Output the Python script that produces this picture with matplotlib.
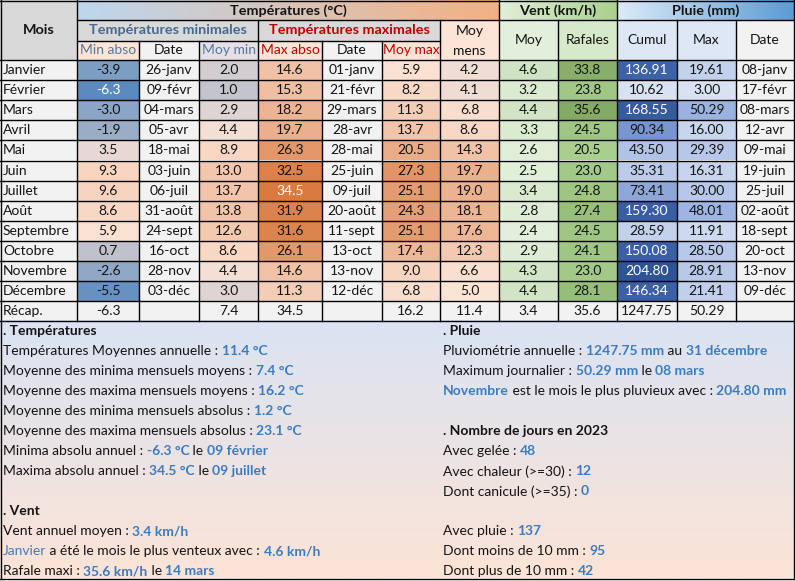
import numpy as np
import matplotlib
matplotlib.use("Agg")
import matplotlib.pyplot as plt
from matplotlib.colors import LinearSegmentedColormap, TwoSlopeNorm, Normalize, to_rgb
from matplotlib.patches import Rectangle

# ---------------- data ----------------
months = ["Janvier", "Février", "Mars", "Avril", "Mai", "Juin", "Juillet", "Août",
          "Septembre", "Octobre", "Novembre", "Décembre"]
min_abso = [-3.9, -6.3, -3.0, -1.9, 3.5, 9.3, 9.6, 8.6, 5.9, 0.7, -2.6, -5.5]
min_date = ["26-janv", "09-févr", "04-mars", "05-avr", "18-mai", "03-juin", "06-juil",
            "31-août", "24-sept", "16-oct", "28-nov", "03-déc"]
moy_min = [2.0, 1.0, 2.9, 4.4, 8.9, 13.0, 13.7, 13.8, 12.6, 8.6, 4.4, 3.0]
max_abso = [14.6, 15.3, 18.2, 19.7, 26.3, 32.5, 34.5, 31.9, 31.6, 26.1, 14.6, 11.3]
max_date = ["01-janv", "21-févr", "29-mars", "28-avr", "28-mai", "25-juin", "09-juil",
            "20-août", "11-sept", "13-oct", "13-nov", "12-déc"]
moy_max = [5.9, 8.2, 11.3, 13.7, 20.5, 27.3, 25.1, 24.3, 25.1, 17.4, 9.0, 6.8]
moy_mens = [4.2, 4.1, 6.8, 8.6, 14.3, 19.7, 19.0, 18.1, 17.6, 12.3, 6.6, 5.0]
vent_moy = [4.6, 3.2, 4.4, 3.3, 2.6, 2.5, 3.4, 2.8, 2.4, 2.9, 4.3, 4.4]
rafales = [33.8, 23.8, 35.6, 24.5, 20.5, 23.0, 24.8, 27.4, 24.5, 24.1, 23.0, 28.1]
cumul = [136.91, 10.62, 168.55, 90.34, 43.50, 35.31, 73.41, 159.30, 28.59, 150.08, 204.80, 146.34]
pluie_max = [19.61, 3.00, 50.29, 16.00, 29.39, 16.31, 30.00, 48.01, 11.91, 28.50, 28.91, 21.41]
pluie_date = ["08-janv", "17-févr", "08-mars", "12-avr", "09-mai", "19-juin", "25-juil",
              "02-août", "18-sept", "20-oct", "13-nov", "09-déc"]
recap = ["Récap.", "-6.3", "", "7.4", "34.5", "", "16.2", "11.4", "3.4", "35.6",
         "1247.75", "50.29", ""]

sub_headers = ["Min abso", "Date", "Moy min", "Max abso", "Date", "Moy max"]

notes_left = [
    [(". Températures", "k", True)],
    [("Températures Moyennes annuelle : ", "k", False), ("11.4 °C", "b", True)],
    [("Moyenne des minima mensuels moyens : ", "k", False), ("7.4 °C", "b", True)],
    [("Moyenne des maxima mensuels moyens : ", "k", False), ("16.2 °C", "b", True)],
    [("Moyenne des minima mensuels absolus : ", "k", False), ("1.2 °C", "b", True)],
    [("Moyenne des maxima mensuels absolus : ", "k", False), ("23.1 °C", "b", True)],
    [("Minima absolu annuel : ", "k", False), ("-6.3 °C", "b", True), (" le ", "k", False), ("09 février", "b", True)],
    [("Maxima absolu annuel : ", "k", False), ("34.5 °C", "b", True), (" le ", "k", False), ("09 juillet", "b", True)],
    [],
    [(". Vent", "k", True)],
    [("Vent annuel moyen : ", "k", False), ("3.4 km/h", "b", True)],
    [("Janvier", "b", False), (" a été le mois le plus venteux avec : ", "k", False), ("4.6 km/h", "b", True)],
    [("Rafale maxi : ", "k", False), ("35.6 km/h", "b", True), (" le ", "k", False), ("14 mars", "b", True)],
]
notes_right = [
    [(". Pluie", "k", True)],
    [("Pluviométrie annuelle : ", "k", False), ("1247.75 mm", "b", True), (" au ", "k", False), ("31 décembre", "b", True)],
    [("Maximum journalier : ", "k", False), ("50.29 mm", "b", True), (" le ", "k", False), ("08 mars", "b", True)],
    [("Novembre", "b", True), (" est le mois le plus pluvieux avec : ", "k", False), ("204.80 mm", "b", True)],
    [],
    [(". Nombre de jours en 2023", "k", True)],
    [("Avec gelée : ", "k", False), ("48", "b", True)],
    [("Avec chaleur (>=30) : ", "k", False), ("12", "b", True)],
    [("Dont canicule (>=35) : ", "k", False), ("0", "b", True)],
    [],
    [("Avec pluie : ", "k", False), ("137", "b", True)],
    [("Dont moins de 10 mm : ", "k", False), ("95", "b", True)],
    [("Dont plus de 10 mm : ", "k", False), ("42", "b", True)],
]

# ---------------- layout / style ----------------
W, H = 795, 581
FONT = "Lato"
FS = 10.0
FS_H = 10.4
TXT = "#141414"
HI = "#3b7cc2"
BLUEGRAY = "#46698f"
SUBBLUE = "#52779f"
RED = "#c00000"
GRAY = "#d9d9d9"
LIGHT = "#f2f2f2"
PEACH = "#fce4d6"

col_edges = [0, 77, 139, 199, 258, 322, 382, 440, 499, 558, 617, 677, 736, 794]
hdr_edges = [0, 20, 41, 60]
row_h = 20.1
n_rows = len(months) + 1
table_bottom = hdr_edges[-1] + n_rows * row_h
notes_bottom = 578.5

fig = plt.figure(figsize=(W / 100, H / 100), dpi=100)
ax = fig.add_axes([0, 0, 1, 1])
ax.set_xlim(0, W)
ax.set_ylim(H, 0)
ax.axis("off")
fig.patch.set_facecolor("white")
renderer = fig.canvas.get_renderer()


def rect(x0, y0, x1, y1, fc, z=1):
    ax.add_patch(Rectangle((x0, y0), x1 - x0, y1 - y0, facecolor=fc, edgecolor="none", zorder=z))


def hgrad(x0, y0, x1, y1, c0, c1, vertical=False):
    c0 = np.array(to_rgb(c0)); c1 = np.array(to_rgb(c1))
    t = np.linspace(0, 1, 256)
    g = c0[None, :] * (1 - t[:, None]) + c1[None, :] * t[:, None]
    img = g[None, :, :] if not vertical else g[:, None, :]
    ax.imshow(img, extent=(x0, x1, y1, y0), aspect="auto", zorder=1, interpolation="bilinear")


def txt(x, y, s, color=TXT, bold=False, ha="center", size=FS):
    return ax.text(x, y, s, color=color, fontweight="bold" if bold else "normal",
                   ha=ha, va="center", fontsize=size, family=FONT, zorder=5)


def cx(c0, c1=None):
    c1 = c0 if c1 is None else c1
    return (col_edges[c0] + col_edges[c1 + 1]) / 2


def row_y(i):
    return hdr_edges[-1] + i * row_h


# ---- colour scales ----
temp_cmap = LinearSegmentedColormap.from_list("temp", ["#5b8bbe", PEACH, "#d97a40"])
temp_norm = TwoSlopeNorm(vmin=-6.3, vcenter=5.0, vmax=34.5)
vm_cmap = LinearSegmentedColormap.from_list("vm", ["#e2efda", "#cfe4c2"])
vm_norm = Normalize(min(vent_moy), max(vent_moy))
raf_cmap = LinearSegmentedColormap.from_list("raf", ["#a9cf8f", "#84ab65"])
raf_norm = Normalize(min(rafales), max(rafales))
cum_cmap = LinearSegmentedColormap.from_list(
    "cum", [(0.0, "#d9e2f3"), (0.40, "#7b98d2"), (0.65, "#3d62a8"), (1.0, "#2e5496")])
cum_norm = Normalize(min(cumul), max(cumul))
pmax_cmap = LinearSegmentedColormap.from_list("pmax", ["#d9e2f3", "#9bb2e1"])
pmax_norm = Normalize(min(pluie_max), max(pluie_max))

# ---------------- header ----------------
rect(col_edges[0], 0, col_edges[1], hdr_edges[3], GRAY)
txt(cx(0), hdr_edges[3] / 2, "Mois", bold=True, size=FS_H)

hgrad(col_edges[1], 0, col_edges[8], hdr_edges[1], "#bdd7ee", "#f4b183")
txt(cx(1, 7), hdr_edges[1] / 2 + 0.5, "Températures (°C)", bold=True, size=FS_H)
hgrad(col_edges[8], 0, col_edges[10], hdr_edges[1], "#e2efda", "#a9d08e")
txt(cx(8, 9), hdr_edges[1] / 2 + 0.5, "Vent (km/h)", bold=True, size=FS_H)
hgrad(col_edges[10], 0, col_edges[13], hdr_edges[1], "#ddebf7", "#5b9bd5")
txt(cx(10, 12), hdr_edges[1] / 2 + 0.5, "Pluie (mm)", bold=True, size=FS_H)

ym1 = (hdr_edges[1] + hdr_edges[2]) / 2
rect(col_edges[1], hdr_edges[1], col_edges[4], hdr_edges[2], GRAY)
txt(cx(1, 3), ym1, "Températures minimales", color=BLUEGRAY, bold=True, size=FS_H)
rect(col_edges[4], hdr_edges[1], col_edges[7], hdr_edges[2], GRAY)
txt(cx(4, 6), ym1, "Températures maximales", color=RED, bold=True, size=FS_H)

rect(col_edges[7], hdr_edges[1], col_edges[8], hdr_edges[3], PEACH)
txt(cx(7), 31, "Moy")
txt(cx(7), 51, "mens")
span_cols = [(8, "Moy", "#e2efda"), (9, "Rafales", "#d6e9c9"), (10, "Cumul", "#dde7f5"),
             (11, "Max", "#dde7f5"), (12, "Date", LIGHT)]
for c, lab, fc in span_cols:
    rect(col_edges[c], hdr_edges[1], col_edges[c + 1], hdr_edges[3], fc)
    txt(cx(c), (hdr_edges[1] + hdr_edges[3]) / 2, lab)

sub_style = [(PEACH, SUBBLUE), (LIGHT, TXT), ("#e6e0e6", SUBBLUE),
             (PEACH, RED), (LIGHT, TXT), (PEACH, RED)]
ym2 = (hdr_edges[2] + hdr_edges[3]) / 2
for k, lab in enumerate(sub_headers):
    fc, tc = sub_style[k]
    rect(col_edges[1 + k], hdr_edges[2], col_edges[2 + k], hdr_edges[3], fc)
    txt(cx(1 + k), ym2, lab, color=tc)

# ---------------- body ----------------
tmin_all = min(min_abso)
tmax_all = max(max_abso)
for i, m in enumerate(months):
    y0, y1 = row_y(i), row_y(i + 1)
    yc = (y0 + y1) / 2
    rect(col_edges[0], y0, col_edges[1], y1, LIGHT)
    txt(3, yc, m, ha="left")
    cells = [
        (1, f"{min_abso[i]:.1f}", temp_cmap(temp_norm(min_abso[i])), min_abso[i] == tmin_all),
        (2, min_date[i], LIGHT, False),
        (3, f"{moy_min[i]:.1f}", temp_cmap(temp_norm(moy_min[i])), False),
        (4, f"{max_abso[i]:.1f}", temp_cmap(temp_norm(max_abso[i])), max_abso[i] == tmax_all),
        (5, max_date[i], LIGHT, False),
        (6, f"{moy_max[i]:.1f}", temp_cmap(temp_norm(moy_max[i])), False),
        (7, f"{moy_mens[i]:.1f}", temp_cmap(temp_norm(moy_mens[i])), False),
        (8, f"{vent_moy[i]:.1f}", vm_cmap(vm_norm(vent_moy[i])), False),
        (9, f"{rafales[i]:.1f}", raf_cmap(raf_norm(rafales[i])), False),
        (10, f"{cumul[i]:.2f}", cum_cmap(cum_norm(cumul[i])), cum_norm(cumul[i]) > 0.6),
        (11, f"{pluie_max[i]:.2f}", pmax_cmap(pmax_norm(pluie_max[i])), False),
        (12, pluie_date[i], LIGHT, False),
    ]
    for c, s, fc, white in cells:
        rect(col_edges[c], y0, col_edges[c + 1], y1, fc)
        txt(cx(c), yc, s, color="white" if white else TXT)

# recap row
y0, y1 = row_y(len(months)), row_y(len(months) + 1)
yc = (y0 + y1) / 2
rect(0, y0, col_edges[-1], y1, LIGHT)
for c, s in enumerate(recap):
    if c == 0:
        txt(3, yc, s, ha="left")
    elif s:
        txt(cx(c), yc, s)

# ---------------- grid lines ----------------
LW = 1.0
def hline(y, x0, x1):
    ax.plot([x0, x1], [y, y], color="black", lw=LW, zorder=6, solid_capstyle="projecting")
def vline(x, y0, y1):
    ax.plot([x, x], [y0, y1], color="black", lw=LW, zorder=6, solid_capstyle="projecting")

hline(0.5, 0, col_edges[-1])
hline(hdr_edges[1], col_edges[1], col_edges[-1])
hline(hdr_edges[2], col_edges[1], col_edges[7])
for i in range(n_rows + 1):
    hline(row_y(i), 0, col_edges[-1])
vline(0.5, 0, table_bottom)
vline(col_edges[-1], 0, notes_bottom)
vline(col_edges[1], 0, table_bottom)
for c in [8, 10]:
    vline(col_edges[c], 0, table_bottom)
for c in [4, 7, 9, 11, 12]:
    vline(col_edges[c], hdr_edges[1], table_bottom)
for c in [2, 3, 5, 6]:
    vline(col_edges[c], hdr_edges[2], table_bottom)

# ---------------- notes ----------------
hgrad(0, table_bottom, col_edges[-1], notes_bottom, "#dae3f3", "#fce4d6", vertical=True)
vline(0.5, table_bottom, notes_bottom)
hline(notes_bottom, 0, col_edges[-1])


def text_width(s, bold):
    kw = dict(fontsize=FS, family=FONT, fontweight="bold" if bold else "normal")
    probe = ax.text(0, 0, s + "|", **kw)
    bar = ax.text(0, 0, "|", **kw)
    w = probe.get_window_extent(renderer).width - bar.get_window_extent(renderer).width
    probe.remove(); bar.remove()
    return w


def draw_runs(x, y, parts):
    for s, col, bold in parts:
        txt(x, y, s, color=TXT if col == "k" else HI, bold=bold, ha="left")
        x += text_width(s, bold)


line_y0 = table_bottom + 10
line_h = 20.0
for k, parts in enumerate(notes_left):
    if parts:
        draw_runs(3, line_y0 + k * line_h, parts)
for k, parts in enumerate(notes_right):
    if parts:
        draw_runs(443, line_y0 + k * line_h, parts)

fig.savefig("out.png", dpi=100)
